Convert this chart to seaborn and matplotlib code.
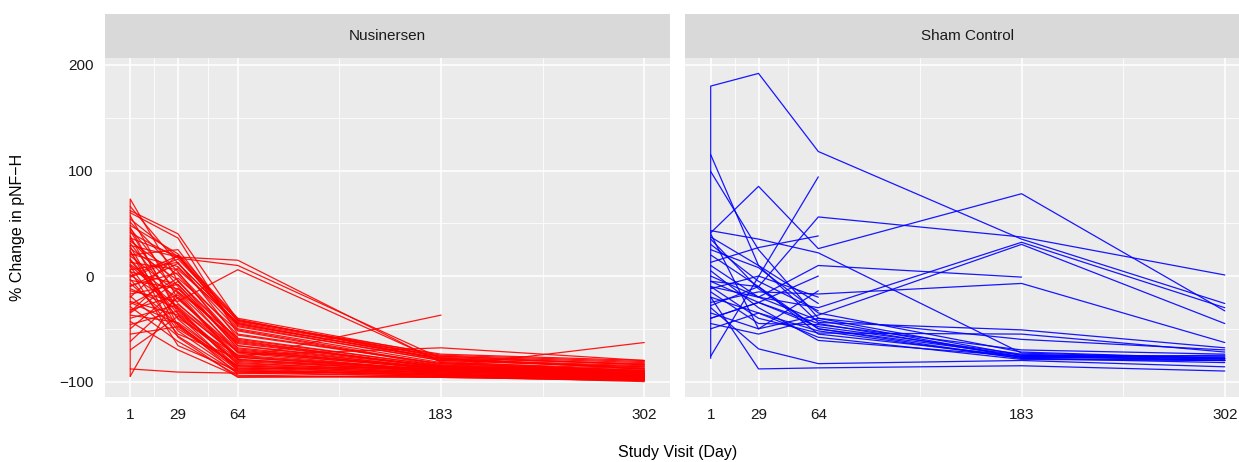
import matplotlib
matplotlib.use("Agg")
import matplotlib.pyplot as plt
import numpy as np
import pandas as pd
import seaborn as sns

# ---------------- data ----------------
visits = [1, 29, 64, 183, 302]
groups = ["Nusinersen", "Sham Control"]
tick_labels = ["1", "29", "64", "183", "302"]
y_ticks = [-100, 0, 100, 200]

# % change in pNF-H per subject at visits 1, 29, 64, 183, 302 (None = missing)
nus_values = [
    [73, -5, -62, -86, -92],
    [66, 12, -45, -78, -88],
    [62, 40, -42, -76, -84],
    [60, 36, -55, -83, -90],
    [57, -22, -72, -88, -95],
    [54, 18, -47, -80, -87],
    [51, 4, -66, -86, -93],
    [48, 21, -40, -75, -81],
    [45, -10, -73, -90, -96],
    [43, -32, -82, -92, -98],
    [41, 17, 10, -78, -88],
    [38, -47, -86, -93, -97],
    [36, 19, -43, -74, -80],
    [33, 1, -61, -87, -91],
    [31, -26, -77, -89, -94],
    [29, 18, 15, -82, -92],
    [26, -4, -69, -88, -93],
    [23, -41, -88, -94, -99],
    [21, 9, -51, -84, -90],
    [19, -16, -79, -91, -95],
    [16, -36, -83, -90, -96],
    [13, 6, -44, -76, -82],
    [11, -21, -71, -87, -92],
    [9, -52, -91, -95, -100],
    [6, 13, -59, -85, -91],
    [4, -8, -66, -88, -94],
    [1, -29, -77, -90, -95],
    [-1, 16, -42, -77, -84],
    [-4, -12, -63, -86, -92],
    [-7, -46, -87, -93, -97],
    [-9, 3, -56, -83, -89],
    [-12, -31, -75, -89, -93],
    [-14, -24, 6, -81, -90],
    [-17, -8, -68, -87, -92],
    [-19, -57, -92, -95, -98],
    [-24, -37, -90, -94, -97],
    [-27, -2, -52, -85, -90],
    [-29, -62, -94, -96, -99],
    [-32, -18, -80, -90, -93],
    [-34, 8, -46, -78, -83],
    [-37, -44, -85, -92, -96],
    [-40, -27, -72, -88, -92],
    [-43, -70, -95, -96, -99],
    [-46, -33, -84, -91, -95],
    [-50, -12, -64, -86, -90],
    [-55, -48, -89, -94, -97],
    [-62, -20, -76, -89, -93],
    [-70, -38, -81, -90, -95],
    [-88, -91, -92, -90, -94],
    [-95, -15, -70, -88, -93],
    [20, 25, -48, -80, -86],
    [0, 19, -41, -79, -85],
    [-3, -55, -78, -37, None],
    [15, -40, -75, -68, -80],
    [10, -30, -88, -86, -63],
    [35, -15, -58, None, None],
    [-25, -45, -93, None, None],
    [28, -50, -85, -92, -96],
    [46, -35, -79, -89, -94],
    [-10, 12, -45, -79, -86],
    [5, -66, -90, -93, -96],
    [-20, 20, -50, -82, -88],
    [24, -58, -96, -95, -98],
    [-35, -5, -60, -85, -91],
]

sham_values = [
    [180, 192, 118, 35, -26],
    [-76, None, 94, None, None],
    [115, 10, -26, None, None],
    [99, 25, -40, -75, -80],
    [41, 85, 26, 78, -33],
    [13, 27, 38, None, None],
    [-5, -10, 56, 37, 1],
    [40, -50, -14, None, None],
    [0, -20, 10, -1, None],
    [-25, -15, -17, -7, -63],
    [-10, -20, -30, 32, -30],
    [-35, -50, -37, 30, -45],
    [43, 35, 22, -73, -78],
    [-20, -88, -87, -85, -90],
    [-30, -69, -83, -80, -86],
    [37, 10, -44, -51, -68],
    [-10, -40, -54, -55, -72],
    [5, -30, -61, -76, -80],
    [-40, -25, -45, -77, -78],
    [20, -10, -50, -75, -76],
    [-45, -55, -40, -60, -70],
    [-20, -35, -52, -78, -82],
    [-5, -25, -48, -74, -79],
    [10, -20, -42, -77, -75],
    [-50, -35, -58, -79, -80],
    [25, 8, -35, -72, -78],
    [-15, -45, -46, -70, -74],
    [-28, -10, -55, -76, -77],
    [35, -12, -50, -78, -80],
    [-40, -25, 0, None, None],
    [-12, 0, -20, None, None],
    [30, -5, -33, None, None],
]

# additional (earlier) day-1 reading for some subjects
nus_extra_subject = [0]
nus_extra_value = [-95]
sham_extra_subject = [0]
sham_extra_value = [-78]

# ---------------- long table ----------------
rows = []


def add_group(group, values, extra_subj, extra_val):
    for i, vals in enumerate(values):
        sid = f"{group}-{i}"
        for s, v in zip(extra_subj, extra_val):
            if s == i:
                rows.append((group, sid, visits[0], v))
        for d, v in zip(visits, vals):
            if v is not None:
                rows.append((group, sid, d, v))


add_group(groups[0], nus_values, nus_extra_subject, nus_extra_value)
add_group(groups[1], sham_values, sham_extra_subject, sham_extra_value)
df = pd.DataFrame(rows, columns=["group", "subject", "day", "pct"])

# ---------------- plot ----------------
sns.set_theme(style="darkgrid")
plt.rcParams["font.family"] = ["Liberation Sans", "DejaVu Sans"]

g = sns.relplot(
    data=df, x="day", y="pct", col="group", col_order=groups,
    hue="group", hue_order=groups,
    palette={"Nusinersen": "#FF0000", "Sham Control": "#0000FF"},
    units="subject", estimator=None, kind="line", sort=False,
    linewidth=0.9, alpha=0.9, legend=False,
    height=4.62, aspect=1.34,
)
fig = g.figure
fig.set_size_inches(12.39, 4.62)
W, H = 1239.0, 462.0

panel_top, panel_bot = 58.0, 397.0
panel_w = 565.5
lefts = [104.5, 685.0]

for ax, left, name in zip(g.axes.flat, lefts, groups):
    ax.set_position([left / W, (H - panel_bot) / H, panel_w / W, (panel_bot - panel_top) / H])
    ax.set_facecolor("#EBEBEB")
    ax.set_axisbelow(True)
    ax.set_xlim(-14.05, 317.05)
    ax.set_ylim(-114.6, 206.6)
    ax.set_xticks(visits)
    ax.set_xticklabels(tick_labels)
    ax.set_xticks([15, 46.5, 123.5, 242.5], minor=True)
    ax.set_yticks(y_ticks)
    ax.set_yticks([-50, 50, 150], minor=True)
    ax.grid(which="major", color="white", linewidth=1.1)
    ax.grid(which="minor", color="white", linewidth=0.55)
    for sp in ax.spines.values():
        sp.set_visible(False)
    ax.tick_params(which="major", length=4, width=0.9, color="#333333",
                   labelsize=11, labelcolor="#1A1A1A", pad=4)
    ax.tick_params(which="minor", length=0)
    ax.set_title("")
    ax.set_xlabel("")
    ax.set_ylabel("")
    # facet strip
    sax = fig.add_axes([left / W, (H - panel_top) / H, panel_w / W, 44.0 / H])
    sax.set_facecolor("#D9D9D9")
    sax.set_xticks([])
    sax.set_yticks([])
    for sp in sax.spines.values():
        sp.set_visible(False)
    sax.text(0.5, 0.5, name, ha="center", va="center", fontsize=11, color="#1A1A1A",
             transform=sax.transAxes)

g.axes.flat[1].tick_params(axis="y", left=False, labelleft=False)

fig.text(18 / W, (H - 227.5) / H, "% Change in pNF\u2212H", rotation=90,
         ha="center", va="center", fontsize=11.5, color="black")
fig.text(677.5 / W, (H - 452) / H, "Study Visit (Day)", ha="center", va="center",
         fontsize=11.5, color="black")

fig.savefig("out.png", dpi=100, facecolor="white")
